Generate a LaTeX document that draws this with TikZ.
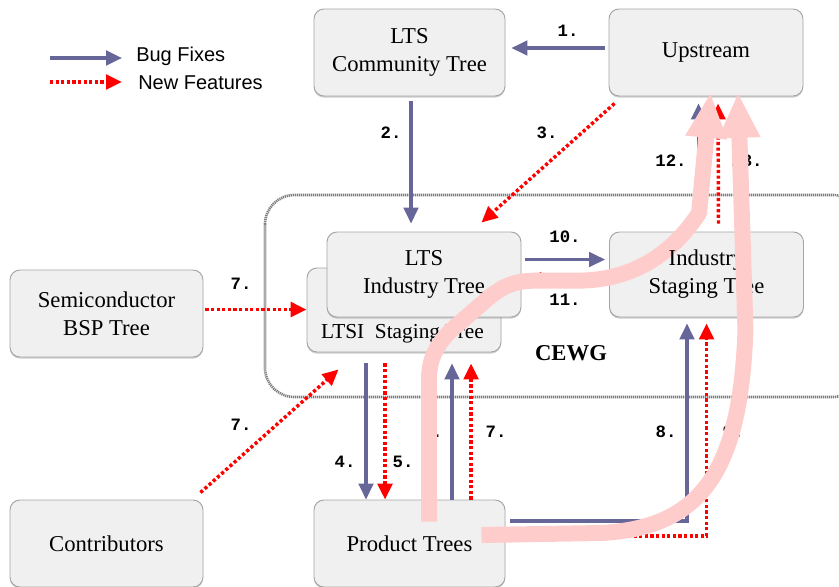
\documentclass[tikz,border=0pt]{standalone}
\usepackage{fontspec}
\setmainfont{Liberation Serif}
\setmonofont{Liberation Mono}
\newfontfamily\legendfont{Liberation Sans}
\usetikzlibrary{arrows.meta,calc,shadows}
\definecolor{bugc}{RGB}{102,102,153}
\definecolor{featc}{RGB}{255,0,0}
\definecolor{boxfill}{RGB}{240,240,240}
\definecolor{boxline}{RGB}{165,165,165}
\definecolor{pinkc}{RGB}{255,204,204}
\definecolor{cewgc}{RGB}{125,125,125}
\begin{document}
\begin{tikzpicture}[x=0.75pt,y=-0.75pt,
  treebox/.style={rounded corners=7.5pt, fill=boxfill, draw=boxline, line width=0.7pt,
    inner sep=0pt, align=center, font=\fontsize{17}{21}\selectfont,
    drop shadow={shadow xshift=0pt, shadow yshift=-1.2pt, opacity=0.4}},
  boxtext/.style={inner sep=0pt, align=center, font=\fontsize{17}{21}\selectfont},
  bug/.style={draw=bugc, line width=2.4pt, -{Triangle[length=12pt,width=11pt]}},
  feat/.style={draw=featc, line width=2.6pt, dash pattern=on 2.4pt off 1.8pt,
    -{Triangle[length=12pt,width=11pt]}},
  lab/.style={font=\fontsize{13}{13}\selectfont\ttfamily\bfseries, inner sep=0pt},
  legtext/.style={font=\fontsize{15}{15}\selectfont\legendfont, inner sep=0pt, anchor=west},
  pinkarrow/.style={draw=pinkc, line width=12pt, line join=round,
    -{Triangle[length=34pt,width=29pt]}},
  cewgline/.style={draw=cewgc, line width=2pt, dash pattern=on 0.9pt off 0.6pt,
    rounded corners=22pt}
]
\useasboundingbox (0,0) rectangle (839,586);

% CEWG group
\draw[cewgline] (265,195) rectangle (862,397);
\node[font=\fontsize{17}{17}\selectfont\bfseries, inner sep=0pt] (cewg) at (571,353) {CEWG};

% legend
\coordinate (lb1) at (50,58);
\coordinate (lb2) at (122,58);
\coordinate (lf1) at (50,82);
\coordinate (lf2) at (122,82);
\draw[bug] (lb1) -- (lb2);
\draw[feat] (lf1) -- (lf2);
\node[legtext] (lbt) at (136,56) {Bug Fixes};
\node[legtext] (lft) at (138,83) {New Features};

% boxes
\node[treebox, minimum width=143.25pt, minimum height=65.25pt] (comm) at (409.5,52.5) {LTS\\Community Tree};
\node[treebox, minimum width=145.5pt, minimum height=65.25pt] (up) at (706,52.5) {Upstream};
\node[treebox, minimum width=144.75pt, minimum height=65.25pt] (bsp) at (106.5,313.5) {Semiconductor\\BSP Tree};
\node[treebox, minimum width=144.75pt, minimum height=65.25pt] (contrib) at (106.5,543.5) {Contributors};
\node[treebox, minimum width=143.25pt, minimum height=65.25pt] (prod) at (409.5,543.5) {Product Trees};
\node[treebox, minimum width=145.5pt, minimum height=63pt] (stg) at (404,310) {};
\node[inner sep=0pt, font=\fontsize{16}{20}\selectfont] (stgtext) at (402.5,334) {LTSI\ \ Staging Tree};
\node[treebox, minimum width=145.5pt, minimum height=63.75pt] (lts) at (424,274.5) {LTS\\Industry Tree};
\node[treebox, minimum width=145.5pt, minimum height=63.75pt] (ist) at (706.5,274.5) {};

% connectors
\draw[bug] ($(up.west)+(-4,-4.5)$) -- ($(comm.east)+(6,-4.5)$);
\draw[bug] ($(comm.south)+(1.5,5)$) -- ($(comm.south |- lts.north)+(1.5,-8)$);
\draw[feat] ($(up.south west)+(6,7)$) -- ($(lts.north east)+(-40,-9)$);
\draw[bug] ($(ist.north)+(-8,-12)$) -- ($(up.south)+(-7.5,7)$);
\draw[feat] ($(ist.north)+(12,-8)$) -- ($(up.south)+(12,7)$);
\draw[bug] ($(lts.east)+(4,-15)$) -- ($(ist.west)+(-4,-15)$);
\draw[feat] ($(ist.west)+(-4,5)$) -- ($(lts.east)+(4,5)$);
\draw[feat] ($(bsp.east)+(2,-4)$) -- ($(bsp.east -| stg.west)+(0,-4)$);
\draw[feat] ($(contrib.north east)+(-3,-7)$) -- ($(stg.south west)+(32,17)$);
\draw[bug] ($(stg.south -| prod.north)+(-43.5,11)$) -- ($(prod.north)+(-43.5,0)$);
\draw[feat] ($(stg.south -| prod.north)+(-24.5,11)$) -- ($(prod.north)+(-24.5,0)$);
\draw[bug] ($(prod.north)+(42.5,0)$) -- ($(stg.south -| prod.north)+(42.5,11)$);
\draw[feat] ($(prod.north)+(61.5,0)$) -- ($(stg.south -| prod.north)+(61.5,11)$);
\draw[bug] ($(prod.east)+(5,-22.5)$) -| ($(ist.south)+(-19.5,6)$);
\draw[feat] ($(prod.east)+(5,-7.5)$) -| ($(ist.south)+(0,6)$);

% labels
\node[lab] (l1) at (568,31) {1.};
\node[lab] (l2) at (391,133) {2.};
\node[lab] (l3) at (547,133) {3.};
\node[lab] (l12) at (671,161) {12.};
\node[lab] (l13) at (747,161) {13.};
\node[lab] (l10) at (565,237) {10.};
\node[lab] (l11) at (565,300) {11.};
\node[lab] (l7a) at (241,284) {7.};
\node[lab] (l7b) at (241,425) {7.};
\node[lab] (l4) at (345,462) {4.};
\node[lab] (l5) at (403,462) {5.};
\node[lab] (l6) at (432,432) {6.};
\node[lab] (l7c) at (496,432) {7.};
\node[lab] (l8) at (666,432) {8.};
\node[lab] (l9) at (733,432) {9.};

% pink overlay arrows
\draw[pinkarrow] ($(prod.north)+(19.5,22)$) -- ($(prod.north)+(19.5,-120)$)
  .. controls ($(prod.north)+(19.5,-140)$) and ($(prod.north)+(26.5,-155)$) .. ($(prod.north)+(42.5,-170)$)
  -- ($(prod.north)+(80.5,-203)$)
  .. controls ($(prod.north)+(98.5,-217)$) and ($(prod.north)+(110.5,-219)$) .. ($(prod.north)+(130.5,-219)$)
  -- ($(ist.west)+(-25,6)$)
  .. controls ($(ist.west)+(15,4.5)$) and ($(ist.west)+(58,-12.5)$) .. ($(ist.west)+(90,-61.5)$)
  -- ($(up.south)+(4.5,-4)$);
\node[boxtext] (isttext) at (ist.center) {Industry\\Staging Tree};
\draw[pinkarrow] ($(prod.east)+(-24,-8.5)$) -- ($(prod.east)+(95,-10.5)$)
  .. controls ($(prod.east)+(197,-15.5)$) and ($(prod.east)+(235,-73.5)$) .. ($(prod.east)+(240,-213.5)$)
  -- ($(up.south)+(32,-4)$);
\end{tikzpicture}
\end{document}
